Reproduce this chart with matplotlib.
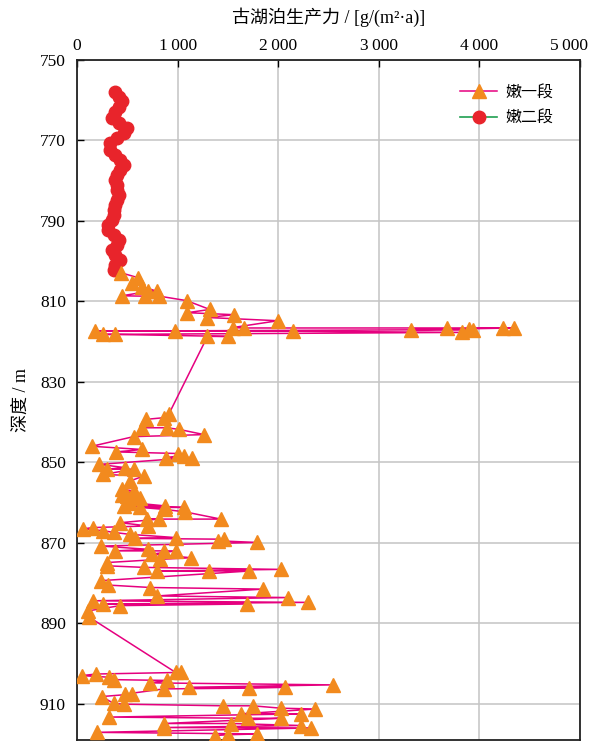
import matplotlib
matplotlib.use("Agg")
import matplotlib.pyplot as plt
import matplotlib.transforms as mtransforms

plt.rcParams['font.family'] = ['Liberation Serif', 'Noto Sans CJK SC', 'DejaVu Sans']

# 嫩二段 (depth m, productivity g/(m2·a))
n2_depth = [757.9, 759.1, 760.3, 761.6, 762.8, 764.5, 765.7, 767.0, 768.2, 769.5,
            770.7, 772.4, 773.6, 774.8, 776.1, 777.3, 778.6, 779.8, 781.1, 782.3,
            783.5, 784.8, 786.0, 787.3, 788.5, 789.7, 791.0, 792.2, 793.5, 794.7,
            795.9, 797.2, 798.4, 799.7, 800.9, 802.1]
n2_value = [380, 413, 447, 413, 380, 347, 413, 497, 463, 397,
            330, 330, 380, 430, 463, 430, 397, 380, 397, 397,
            413, 397, 380, 363, 363, 347, 313, 313, 363, 413,
            397, 347, 380, 430, 380, 363]

# 嫩一段
n1_depth = [802.9, 804.1, 805.3, 806.3, 807.5, 807.5, 808.6, 808.7, 808.7, 809.8,
            812.0, 812.8, 813.3, 814.0, 814.8, 816.5, 816.6, 816.6, 816.6, 816.6,
            816.8, 817.0, 817.0, 817.4, 817.4, 817.4, 817.7, 818.2, 818.2, 818.7, 818.7,
            838.0, 838.9, 839.3, 841.4, 841.4, 841.8, 843.1, 843.6, 846.0, 846.8,
            847.4, 847.8, 848.3, 848.8, 848.8, 850.5, 851.3, 851.7, 851.7, 853.0,
            853.4, 854.6, 856.7, 857.1, 858.0, 858.4, 858.8, 858.8, 860.0, 860.8,
            860.8, 861.2, 861.2, 861.7, 862.3, 864.1, 864.1, 864.1, 865.0, 865.8,
            866.2, 866.5, 867.0, 867.4, 867.9, 868.7, 868.9, 869.1, 869.5, 869.9,
            870.8, 871.6, 872.0, 872.0, 872.0, 872.8, 873.7, 874.1, 874.9, 875.7,
            876.1, 876.6, 877.0, 877.0, 877.0, 879.4, 880.5, 881.1, 881.5, 883.2,
            883.6, 884.4, 884.8, 885.2, 885.2, 885.6, 886.9, 888.5,
            902.2, 902.2, 902.6, 903.0, 903.4, 904.0, 904.2, 904.8, 905.3, 905.9,
            905.9, 906.1, 906.3, 907.6, 907.6, 908.2, 909.9, 910.1, 910.5, 910.5,
            911.1, 911.3, 912.5, 912.5, 913.3, 913.6, 913.6, 914.9, 914.9, 915.4,
            915.9, 916.0, 917.1, 917.5, 917.7, 917.9]
n1_value = [440, 607, 547, 647, 797, 710, 447, 680, 820, 1090,
            1320, 1097, 1560, 1297, 1997, 1547, 1657, 3680, 4230, 4347,
            3897, 3323, 3937, 183, 973, 2147, 3823, 257, 373, 1497, 1297,
            913, 863, 690, 647, 890, 1013, 1263, 563, 147, 647,
            390, 1003, 1063, 880, 1147, 223, 473, 297, 563, 263,
            663, 530, 447, 563, 447, 497, 630, 547, 530, 870,
            463, 1063, 630, 873, 1073, 1430, 697, 813, 430, 707,
            163, 63, 263, 363, 530, 987, 580, 1463, 1403, 1790,
            237, 703, 380, 863, 980, 747, 1130, 830, 297, 297,
            663, 2023, 797, 1313, 1713, 237, 313, 730, 1847, 797,
            2097, 163, 2297, 263, 1690, 430, 113, 123,
            980, 1037, 190, 47, 323, 363, 897, 723, 2540, 1113,
            2063, 1713, 863, 480, 547, 247, 363, 463, 1453, 1747,
            2030, 2370, 1630, 2230, 323, 1697, 2030, 863, 1530, 2223,
            863, 2330, 197, 1790, 1497, 1370]

x_ticks = [0, 1000, 2000, 3000, 4000, 5000]
x_ticklabels = ['0', '1\u2009000', '2\u2009000', '3\u2009000', '4\u2009000', '5\u2009000']
y_ticks = [750, 770, 790, 810, 830, 850, 870, 890, 910]
series_names = ['嫩一段', '嫩二段']

fig = plt.figure(figsize=(5.9, 7.44), dpi=100)
ax = fig.add_axes([77/590, 1-740/744, (580-77)/590, (740-60)/744])

ax.plot(n2_value, n2_depth, '-o', color='#1fa050', lw=1.2,
        mfc='#e8242b', mec='#e8242b', ms=9, label=series_names[1], zorder=3)
ax.plot(n1_value, n1_depth, '-^', color='#e5007f', lw=1.1,
        mfc='#f28a1e', mec='#f28a1e', ms=10, label=series_names[0], zorder=4)

ax.set_xlim(0, 5000)
ax.set_ylim(919, 750)
ax.xaxis.tick_top()
ax.xaxis.set_label_position('top')
ax.set_xticks(x_ticks)
ax.set_xticklabels(x_ticklabels)
ax.set_yticks(y_ticks)
ax.tick_params(axis='both', direction='in', labelsize=12.5, length=5, width=1,
               top=True, bottom=False, left=True, right=False)
ax.tick_params(axis='x', pad=4)
ax.tick_params(axis='y', pad=8)
xl = ax.get_xticklabels()
xl[-1].set_horizontalalignment('right')
offset = mtransforms.ScaledTranslation(8/100, 0, fig.dpi_scale_trans)
xl[-1].set_transform(xl[-1].get_transform() + offset)

ax.grid(True, color='#c4c4c4', lw=1.1)
ax.set_axisbelow(True)
for s in ax.spines.values():
    s.set_linewidth(1.3)
    s.set_color('#222222')

ax.set_xlabel('古湖泊生产力 / [g/(m²·a)]', fontsize=13, labelpad=11)
ax.set_ylabel('深度 / m', fontsize=13, labelpad=7)

handles, labels = ax.get_legend_handles_labels()
ax.legend(handles[::-1], labels[::-1], loc='upper right', bbox_to_anchor=(0.975, 0.985),
          frameon=False, fontsize=11.5, handlelength=2.3, labelspacing=0.6,
          handletextpad=0.5)

fig.savefig('out.png', dpi=100)
